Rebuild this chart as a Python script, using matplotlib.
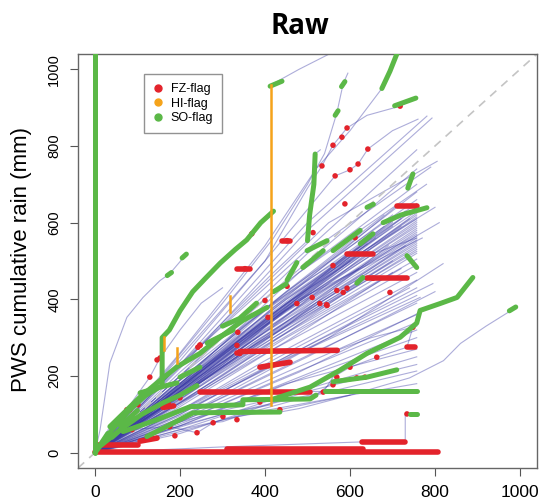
import matplotlib
matplotlib.use("Agg")
import matplotlib.pyplot as plt
from matplotlib.lines import Line2D

# ---- data (x = reference rain, y = PWS rain, mm) ----

# bundle of station lines: (x1, y1, x2, y2, x_end, y_end), each drawn from the origin
bundle_lines = [
    (200, 230, 450, 480, 757, 790), (200, 210, 450, 450, 757, 740),
    (200, 200, 420, 420, 757, 700), (200, 190, 430, 400, 757, 680),
    (200, 200, 450, 420, 757, 660), (200, 180, 400, 370, 757, 650),
    (200, 170, 420, 380, 757, 640), (200, 190, 450, 400, 757, 630),
    (200, 165, 400, 350, 757, 620), (200, 175, 450, 390, 757, 610),
    (200, 160, 420, 350, 757, 600), (200, 170, 430, 360, 757, 590),
    (200, 150, 400, 320, 757, 580), (200, 160, 450, 370, 757, 570),
    (200, 145, 420, 320, 757, 560), (200, 150, 400, 300, 757, 550),
    (200, 140, 450, 330, 757, 540), (200, 150, 420, 300, 757, 530),
    (200, 130, 430, 300, 757, 520), (200, 140, 400, 280, 757, 505),
    (200, 125, 450, 300, 757, 490), (200, 120, 420, 270, 757, 470),
    (200, 110, 400, 240, 757, 450), (200, 100, 450, 250, 757, 430),
    (200, 100, 420, 230, 757, 410), (200, 90, 400, 200, 757, 390),
    (200, 85, 450, 210, 757, 360), (200, 80, 430, 190, 757, 340),
    (200, 70, 420, 170, 757, 320), (200, 230, 500, 600, 781, 878),
    (200, 220, 500, 580, 793, 873), (250, 280, 550, 600, 805, 760),
    (200, 200, 500, 520, 790, 745), (200, 180, 480, 470, 780, 700),
    (220, 190, 520, 450, 800, 640), (200, 150, 500, 400, 810, 600),
    (200, 160, 480, 400, 770, 560), (200, 180, 450, 400, 720, 610),
    (200, 170, 450, 380, 700, 590), (200, 150, 450, 330, 690, 540),
    (200, 190, 450, 420, 680, 620), (200, 170, 420, 360, 650, 560),
    (200, 160, 420, 330, 640, 520), (200, 150, 400, 300, 620, 480),
    (200, 130, 450, 290, 700, 470), (200, 110, 450, 260, 740, 430),
    (250, 120, 550, 300, 819, 493), (200, 90, 500, 250, 800, 420),
    (200, 80, 480, 210, 790, 380), (200, 70, 500, 200, 757, 300),
    (200, 60, 450, 150, 757, 250), (200, 50, 500, 160, 757, 230),
    (200, 55, 480, 140, 757, 213), (200, 75, 450, 180, 757, 270),
    (220, 120, 520, 290, 795, 441), (200, 105, 480, 260, 765, 405),
    # dense core
    (150, 140, 380, 330, 757, 640), (150, 135, 360, 310, 757, 625),
    (150, 130, 390, 330, 757, 615), (150, 128, 350, 295, 757, 605),
    (150, 125, 380, 315, 757, 595), (150, 120, 370, 300, 757, 585),
    (150, 118, 400, 315, 757, 575), (150, 115, 360, 285, 757, 565),
    (150, 112, 390, 300, 757, 555), (150, 110, 370, 285, 757, 545),
    (150, 108, 380, 285, 757, 535), (150, 105, 360, 270, 757, 525),
    (150, 140, 350, 330, 700, 620), (150, 130, 340, 300, 680, 590),
    (150, 125, 330, 285, 660, 560), (150, 120, 320, 270, 640, 545),
    (150, 115, 330, 270, 620, 520), (150, 110, 300, 240, 600, 500),
    (150, 120, 360, 300, 720, 590), (150, 125, 350, 300, 740, 610),
    (150, 135, 370, 320, 730, 630), (150, 110, 380, 280, 730, 540),
    (150, 100, 350, 250, 700, 500), (150, 95, 360, 245, 720, 480),
]

# individual lines traced point by point
steep_line = [(0, 0), (12, 60), (35, 234), (75, 353), (113, 405), (153, 449), (176, 467), (212, 514)]
steep_line2 = [(0, 0), (60, 90), (129, 197), (153, 247), (200, 320), (250, 390), (300, 430)]
line_a = [(0, 0), (150, 190), (300, 390), (420, 560), (500, 700), (540, 780), (569, 886), (584, 963), (595, 990)]
line_b = [(0, 0), (200, 250), (400, 500), (500, 690), (534, 748), (560, 802), (593, 847), (640, 880), (718, 904), (755, 925)]
line_d = [(0, 0), (200, 240), (400, 500), (565, 722), (600, 738), (619, 753), (642, 792), (700, 840), (760, 870)]
line_top = [(0, 0), (200, 260), (400, 540), (520, 740), (600, 840), (675, 950), (694, 995), (712, 1045)]
line_vert = [(0, 0), (200, 230), (420, 470), (500, 553), (505, 620), (515, 700), (518, 779), (530, 790)]
line_hi_low = [(0, 0), (200, 70), (300, 100), (415, 125)]
line_hi_high = [(415, 960), (480, 1000), (560, 1045)]
line_985 = [(0, 0), (200, 60), (400, 110), (600, 150), (740, 195), (820, 240), (860, 285), (920, 330), (985, 375)]
line_jump = [(0, 0), (300, 15), (625, 28), (730, 30), (730, 100), (757, 101)]
line_so_low = [(0, 0), (100, 40), (200, 80), (300, 110), (420, 140), (506, 171), (576, 215), (640, 259),
               (718, 301), (757, 338), (765, 371), (812, 389), (852, 405), (889, 457)]
line_flat158 = [(0, 0), (120, 80), (247, 158), (757, 161)]
line_flat265 = [(0, 0), (200, 170), (341, 262), (570, 267), (650, 300), (757, 330)]
line_flat455 = [(0, 0), (300, 200), (640, 455), (735, 455)]
line_flat520 = [(0, 0), (300, 230), (593, 519), (654, 519), (757, 560)]
line_flat645 = [(0, 0), (400, 360), (710, 644), (757, 646)]
line_so_low2 = [(0, 0), (50, 15), (122, 42), (180, 75), (231, 104), (435, 106), (480, 115), (600, 150), (757, 180)]
line_so_low3 = [(0, 0), (66, 55), (146, 86), (224, 120), (348, 125), (348, 138), (506, 140), (520, 150),
                (560, 185), (640, 197), (710, 216)]
line_fz_diag = [(0, 0), (300, 100), (537, 158), (560, 197), (600, 223), (663, 249), (734, 275), (748, 327)]
line_fz_low = [(0, 0), (82, 60), (176, 68), (240, 52), (278, 78), (301, 81), (334, 94), (435, 112), (600, 150)]
line_upper_edge = [(0, 0), (35, 68), (106, 145), (146, 182), (193, 224), (247, 259), (294, 301),
                   (348, 345), (405, 379), (500, 450), (600, 520), (700, 600)]

# HI-flag (orange) segments
hi_segments = [
    [(415, 125), (415, 960)],
    [(318, 366), (318, 410)],
    [(162, 268), (162, 301)],
    [(193, 233), (193, 272)],
]

# SO-flag (green) segments
so_segments = [
    [(0, 0), (0, 1045)],
    [(0, 0), (40, 60), (80, 110), (120, 150), (158, 175), (158, 300), (175, 320), (200, 370), (230, 420),
     (260, 455), (295, 495), (330, 530), (357, 555), (390, 600), (420, 630)],
    [(500, 553), (505, 620), (515, 700), (518, 779)],
    [(675, 950), (694, 995), (712, 1045)],
    [(412, 956), (440, 969)],
    [(420, 140), (506, 171), (576, 215), (640, 259), (718, 301), (757, 338), (765, 371), (812, 389),
     (852, 405), (889, 457)],
    [(540, 161), (757, 161)],
    [(122, 42), (180, 75), (231, 104), (435, 106)],
    [(66, 55), (146, 86), (224, 120), (348, 125), (348, 138), (506, 140), (520, 150)],
    [(560, 185), (640, 197), (710, 216)],
    [(35, 68), (106, 145), (146, 182), (193, 224), (247, 259), (294, 301), (348, 345), (405, 379)],
    [(15, 20), (60, 60), (110, 100), (160, 130), (200, 150), (240, 175)],
    [(106, 156), (150, 170), (193, 182)],
    [(452, 450), (475, 496)], [(499, 527), (546, 553)], [(624, 545), (654, 571)],
    [(264, 286), (325, 320)], [(200, 197), (247, 223)], [(678, 600), (720, 620), (781, 639)],
    [(560, 527), (624, 580)], [(489, 483), (537, 527)], [(616, 442), (630, 457)],
    [(740, 101), (757, 101)], [(975, 370), (990, 380)],
    [(170, 462), (180, 470)], [(205, 508), (215, 518)],
    [(565, 880), (572, 892)], [(580, 955), (588, 968)], [(705, 905), (755, 925)],
    [(0, 0), (30, 50)], [(40, 40), (90, 90)], [(60, 70), (100, 110)],
    [(736, 690), (748, 727)], [(640, 640), (655, 648)], [(734, 514), (757, 483)],
    [(300, 330), (340, 350), (380, 390)], [(420, 420), (450, 440)],
]

# FZ-flag (red) runs drawn as thick strokes
fz_runs = [
    [(0, 2), (808, 2)],
    [(310, 10), (630, 10)],
    [(5, 20), (100, 20)],
    [(106, 30), (146, 38)],
    [(628, 29), (730, 29)],
    [(247, 158), (506, 158)],
    [(341, 264), (570, 267)],
    [(640, 455), (735, 455)],
    [(593, 519), (654, 519)],
    [(710, 644), (757, 644)],
    [(334, 478), (365, 478)],
    [(440, 553), (459, 553)],
    [(388, 223), (459, 236)],
    [(734, 275), (753, 275)],
    [(160, 118), (185, 122)],
]

# FZ-flag (red) isolated points
fz_x = [593, 581, 560, 534, 565, 600, 619, 642, 588, 718, 369, 452, 353, 400, 407, 336, 247, 341, 513, 560,
        475, 511, 546, 593, 612, 569, 654, 82, 101, 87, 172, 200, 242, 334, 452, 388, 435, 278, 301, 334,
        694, 584, 529, 545, 748, 663, 600, 569, 616, 635, 560, 537, 734, 176, 188, 240, 146, 129, 153, 247,
        334, 75]
fz_y = [847, 823, 802, 748, 722, 738, 753, 792, 649, 904, 571, 553, 480, 397, 353, 314, 281, 259, 574, 488,
        389, 405, 384, 429, 561, 423, 455, 112, 125, 60, 130, 143, 275, 260, 434, 132, 112, 78, 94, 86,
        418, 418, 389, 386, 327, 249, 223, 197, 195, 197, 177, 158, 101, 68, 44, 52, 242, 197, 247, 280,
        280, 112]

x_ticks = [0, 200, 400, 600, 800, 1000]
y_ticks = [0, 200, 400, 600, 800, 1000]
legend_labels = ["FZ-flag", "HI-flag", "SO-flag"]

BLUE = "#3c3ca6"
RED = "#e3232b"
GREEN = "#5bb847"
ORANGE = "#f5a31a"

fig = plt.figure(figsize=(5.41, 5.03), dpi=100)
ax = fig.add_axes([78 / 541, 1 - 468 / 503, (537 - 78) / 541, (468 - 54) / 503])

blue_paths = [[(0, 0), (x1, y1), (x2, y2), (xe, ye)] for x1, y1, x2, y2, xe, ye in bundle_lines]
blue_paths += [steep_line, steep_line2, line_a, line_b, line_d, line_top, line_vert, line_hi_low,
               line_hi_high, line_985, line_jump, line_so_low, line_flat158, line_flat265, line_flat455,
               line_flat520, line_flat645, line_so_low2, line_so_low3, line_fz_diag, line_fz_low,
               line_upper_edge]
for path in blue_paths:
    xs, ys = zip(*path)
    ax.plot(xs, ys, color=BLUE, lw=0.8, alpha=0.42, zorder=2)

# 1:1 line
ax.plot([-40, 1040], [-40, 1040], color="#c4c4c4", lw=1.2, ls=(0, (5, 4)), zorder=2.5)

for seg in fz_runs:
    xs, ys = zip(*seg)
    ax.plot(xs, ys, color=RED, lw=4, solid_capstyle="round", zorder=3)
ax.scatter(fz_x, fz_y, s=16, color=RED, edgecolors="none", zorder=3.2)

for seg in so_segments:
    xs, ys = zip(*seg)
    ax.plot(xs, ys, color=GREEN, lw=3.6, solid_capstyle="round", solid_joinstyle="round", zorder=3.5)

for seg in hi_segments:
    xs, ys = zip(*seg)
    ax.plot(xs, ys, color=ORANGE, lw=1.8, zorder=4)

ax.set_xlim(-40, 1040)
ax.set_ylim(-40, 1040)
ax.set_xticks(x_ticks)
ax.set_yticks(y_ticks)
ax.set_xticklabels([str(t) for t in x_ticks], fontsize=12.5, family="Liberation Sans")
ax.set_yticklabels([str(t) for t in y_ticks], fontsize=10.5, family="Liberation Sans",
                   rotation=90, va="center")
ax.tick_params(axis="both", direction="out", length=6, width=0.8, color="#555555")
ax.tick_params(axis="x", pad=6)
ax.tick_params(axis="y", pad=6)
for sp in ax.spines.values():
    sp.set_color("#666666")
    sp.set_linewidth(1.0)

handles = [Line2D([], [], ls="none", marker="o", markersize=5, color=c) for c in (RED, ORANGE, GREEN)]
leg = ax.legend(handles, legend_labels, loc="upper left", bbox_to_anchor=(0.131, 0.966),
                frameon=True, fancybox=False, handlelength=0.8, handletextpad=0.6,
                labelspacing=0.2, borderpad=0.7, prop={"family": "Liberation Sans", "size": 9})
leg.get_frame().set_edgecolor("#777777")
leg.get_frame().set_linewidth(1.0)

fig.text(300 / 541, 1 - 27 / 503, "Raw", fontsize=20, fontweight="bold", family="Open Sans",
         ha="center", va="center")
fig.text(22 / 541, 1 - 260 / 503, "PWS cumulative rain (mm)", fontsize=16, family="Liberation Sans",
         rotation=90, ha="center", va="center")

fig.savefig("out.png", dpi=100)
